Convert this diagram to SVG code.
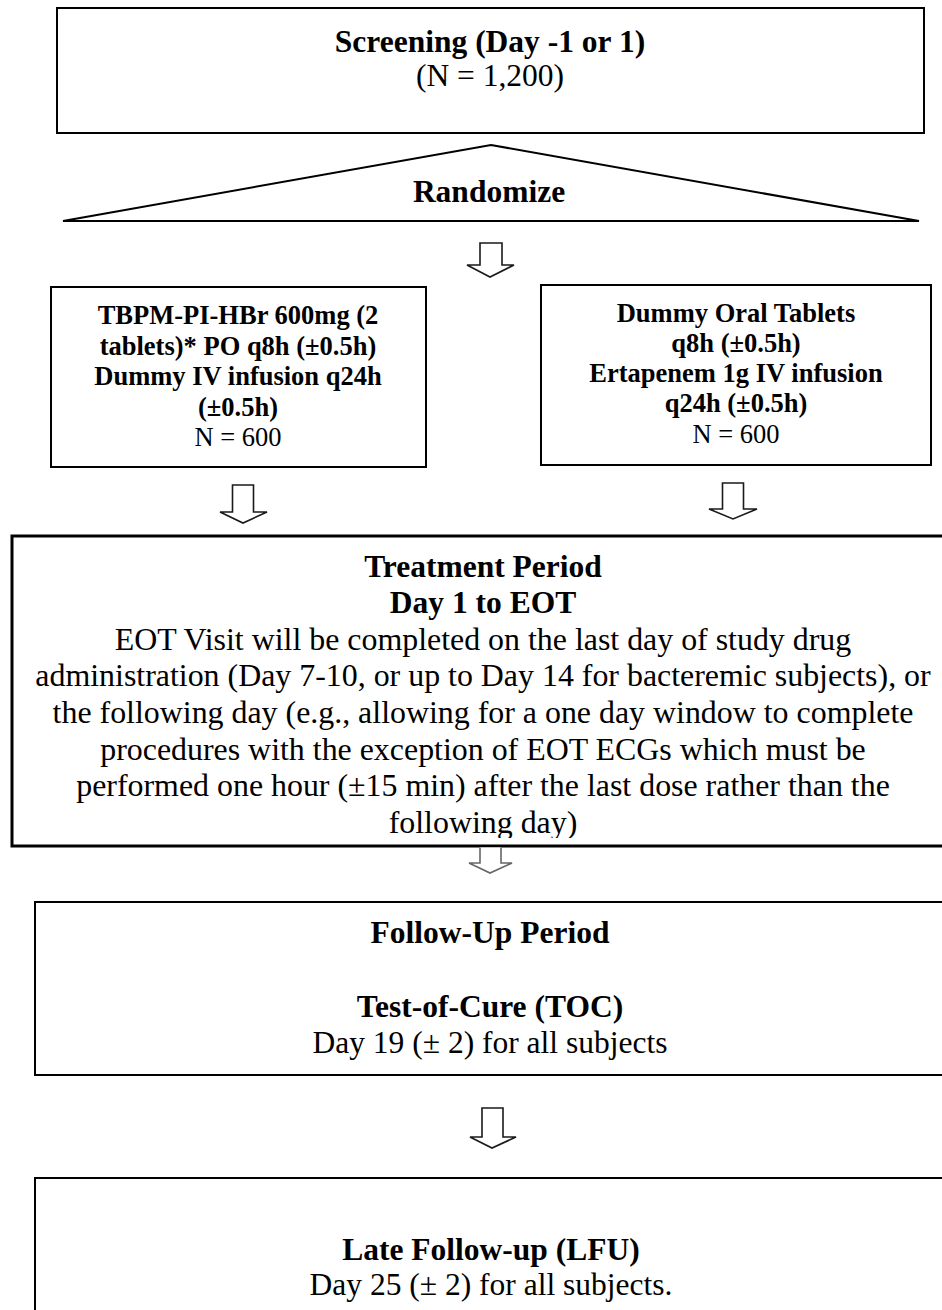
<svg xmlns="http://www.w3.org/2000/svg" width="942" height="1310" viewBox="0 0 942 1310">
<style>
.box{fill:#fff;stroke:#000;stroke-width:2}
.tbox{fill:#fff;stroke:#000;stroke-width:3}
.arr{fill:#fff;stroke:#1a1a1a;stroke-width:1.6;stroke-linejoin:miter}
.arrg{fill:#fff;stroke:#666;stroke-width:1.6}
text{font-family:"Liberation Serif","Times New Roman",serif;fill:#000;text-anchor:middle}
.b{font-weight:bold}
.L{font-size:31.5px}
.T{font-size:31.9px}
.M{font-size:26.5px}
</style>
<defs>
<clipPath id="tclip"><rect x="0" y="530" width="942" height="308"/></clipPath>
</defs>
<rect width="942" height="1310" fill="#fff"/>

<g id="screening">
<rect class="box" x="57" y="8" width="867" height="125"/>
<text class="L b" x="490" y="52">Screening (Day -1 or 1)</text>
<text class="L" x="490" y="86">(N = 1,200)</text>
</g>

<g id="randomize">
<polygon points="491,145 919,221 63,221" fill="#fff" stroke="#000" stroke-width="2" stroke-linejoin="miter"/>
<text class="L b" x="489" y="202">Randomize</text>
</g>

<g id="arm-tbpm">
<rect class="box" x="51" y="287" width="375" height="180"/>
<text class="M b" x="238" y="324">TBPM-PI-HBr 600mg (2</text>
<text class="M b" x="238" y="354.5">tablets)* PO q8h (±0.5h)</text>
<text class="M b" x="238" y="385">Dummy IV infusion q24h</text>
<text class="M b" x="238" y="415.5">(±0.5h)</text>
<text class="M" x="238" y="446">N = 600</text>
</g>

<g id="arm-ertapenem">
<rect class="box" x="541" y="285" width="390" height="180"/>
<text class="M b" x="736" y="322">Dummy Oral Tablets</text>
<text class="M b" x="736" y="352">q8h (±0.5h)</text>
<text class="M b" x="736" y="382">Ertapenem 1g IV infusion</text>
<text class="M b" x="736" y="412">q24h (±0.5h)</text>
<text class="M" x="736" y="443">N = 600</text>
</g>

<g id="treatment">
<rect class="tbox" x="12" y="536" width="945" height="310"/>
<text class="L b" x="483" y="577">Treatment Period</text>
<text class="L b" x="483" y="613">Day 1 to EOT</text>
<g clip-path="url(#tclip)">
<text class="T" x="483" y="650">EOT Visit will be completed on the last day of study drug</text>
<text class="T" x="483" y="686">administration (Day 7-10, or up to Day 14 for bacteremic subjects), or</text>
<text class="T" x="483" y="723">the following day (e.g., allowing for a one day window to complete</text>
<text class="T" x="483" y="760">procedures with the exception of EOT ECGs which must be</text>
<text class="T" x="483" y="796">performed one hour (±15 min) after the last dose rather than the</text>
<text class="T" x="483" y="833">following day)</text>
</g>
</g>

<g id="followup">
<rect class="box" x="35" y="902" width="912" height="173"/>
<text class="L b" x="490" y="943">Follow-Up Period</text>
<text class="L b" x="490" y="1017">Test-of-Cure (TOC)</text>
<text class="L" x="490" y="1053">Day 19 (± 2) for all subjects</text>
</g>

<g id="lfu">
<rect class="box" x="35" y="1178" width="912" height="140"/>
<text class="L b" x="491" y="1260">Late Follow-up (LFU)</text>
<text class="L" x="491" y="1295">Day 25 (± 2) for all subjects.</text>
</g>

<g id="connectors">
<path class="arr" d="M480,243 V265 H467 L490,277 L514,265 H502 V243 Z"/>
<path class="arr" d="M232.5,485 V512 H220 L243,523 L267,512 H253.5 V485 Z"/>
<path class="arr" d="M722.5,483 V509 H709 L733,519 L757,509 H743.5 V483 Z"/>
<path class="arrg" d="M480,847.5 V863 H469 L490,873 L512,863 H501 V847.5"/>
<path class="arr" d="M482,1108 V1137 H470 L492,1148 L516,1137 H503 V1108 Z"/>
</g>
</svg>
